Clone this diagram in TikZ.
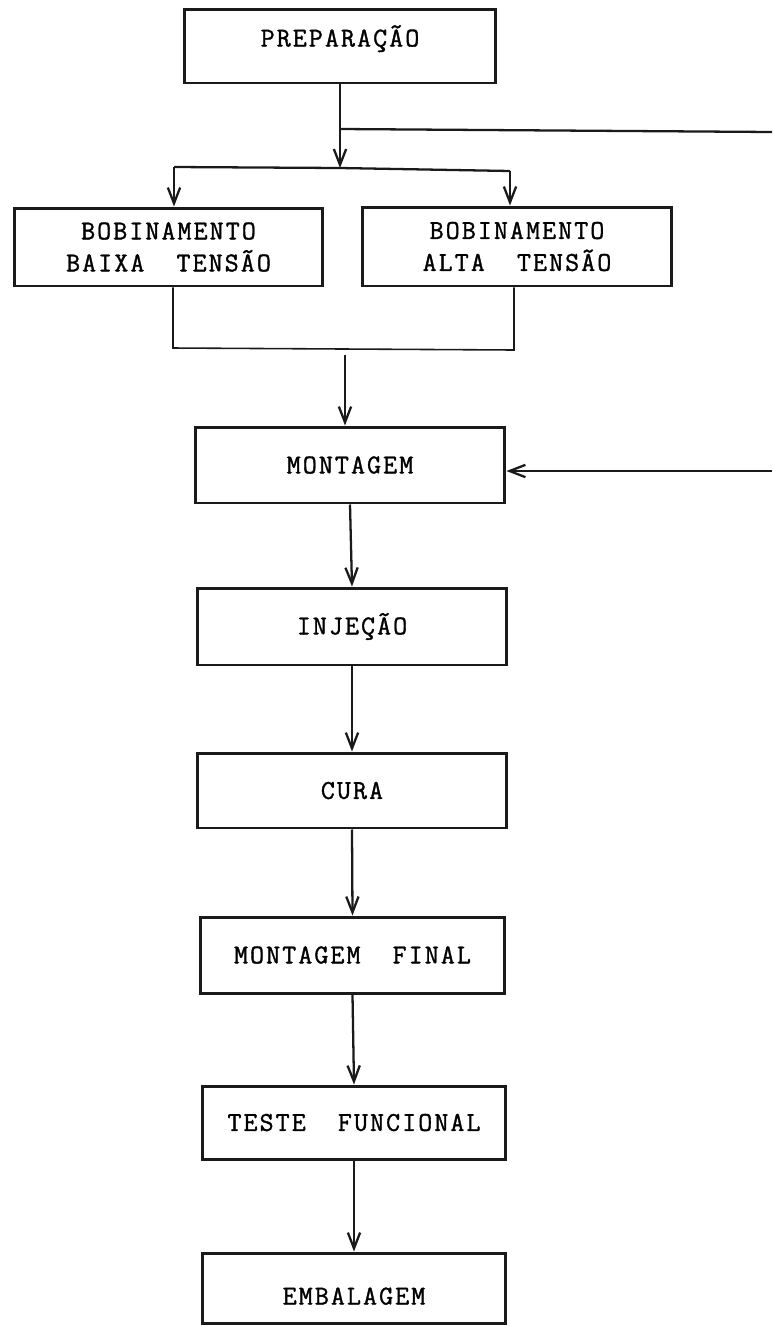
\documentclass[tikz,border=0pt]{standalone}
\usepackage{fontspec}
\newfontfamily\typefont{Latin Modern Mono}[LetterSpace=7.5,FakeBold=1.2]
\usepackage{xcolor}
\usepackage{tikz}
\usetikzlibrary{arrows.meta,calc}
\definecolor{inkmain}{HTML}{1A1A1A}
\tikzset{every node/.append style={font=\typefont\fontsize{15.5}{18.2}\selectfont}}

\begin{document}
\begin{tikzpicture}[x=0.02cm,y=-0.02cm,>={Straight Barb[length=9pt,width=7pt]},
    stage/.style={draw=inkmain,line width=1.7pt,minimum width=6.2cm,
      minimum height=1.52cm,inner sep=2pt,align=center},
    flow/.style={->,draw=inkmain,line width=1.3pt},
    wire/.style={draw=inkmain,line width=1.3pt},
    thinwire/.style={draw=inkmain,line width=0.9pt}]
  \useasboundingbox (0,0) rectangle (772,1326);
  \clip (0,0) rectangle (772,1326);
  % stages
  \node[stage,minimum width=6.24cm,minimum height=0pt,inner ysep=0pt,
    text height=0.75cm,text depth=0.73cm] (prep) at (340,46) {PREPARAÇÃO};
  \node[stage,minimum width=6.18cm,minimum height=1.56cm] (baixa) at (168.5,247)
    {BOBINAMENTO\\BAIXA~~TENSÃO};
  \node[stage,minimum height=1.58cm] (alta) at (517,246.5)
    {BOBINAMENTO\\ALTA~~TENSÃO};
  \node[stage] (mont) at (350,465) {MONTAGEM};
  \node[stage,minimum height=1.54cm] (inj) at (352,626.5) {INJEÇÃO};
  \node[stage,minimum height=1.5cm] (cura) at (352,790.5) {CURA};
  \node[stage,minimum width=6.1cm] (final) at (352.5,955) {MONTAGEM~~FINAL};
  \node[stage,minimum width=6.08cm,minimum height=1.46cm] (teste) at (354,1122.5)
    {TESTE~~FUNCIONAL};
  \node[stage,minimum width=6.08cm,minimum height=0pt,inner ysep=0pt,
    text height=1.03cm,text depth=0.37cm] (emb) at (354,1288) {EMBALAGEM};
  % branch points
  \coordinate (tap) at (340,129);
  \coordinate (tapend) at (772,132);
  \coordinate (fork) at (340,168);
  \coordinate (lfork) at (174,167);
  \coordinate (rfork) at (510,171);
  \coordinate (ljoin) at (173,348);
  \coordinate (rjoin) at (514,350);
  \coordinate (merge) at (345,355);
  \coordinate (back) at (772,471);
  % connectors
  \draw[flow] (prep.south) -- (fork);
  \draw[wire] (tap) -- (tapend);
  \draw[wire] (lfork) -- (fork) -- (rfork);
  \draw[flow] (lfork) -- (lfork |- baixa.north);
  \draw[flow] (rfork) -- (rfork |- alta.north);
  \draw[thinwire] (ljoin |- baixa.south) -- (ljoin) -- (rjoin)
    -- (rjoin |- alta.south);
  \draw[flow] (merge) -- (merge |- mont.north);
  \draw[flow] (back) -- (back -| mont.east);
  \draw[flow] (mont.south) -- (inj.north);
  \draw[flow] (inj.south) -- (cura.north);
  \draw[flow] (cura.south) -- (final.north);
  \draw[flow] (final.south) -- (teste.north);
  \draw[flow] (teste.south) -- (emb.north);
\end{tikzpicture}
\end{document}
